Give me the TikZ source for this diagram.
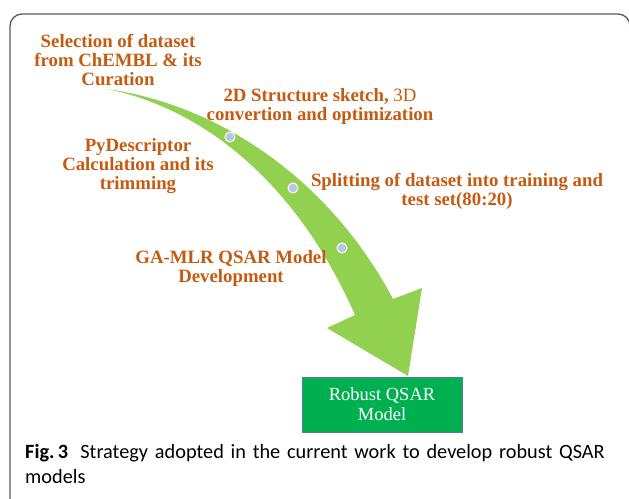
\documentclass[tikz,border=0pt]{standalone}
\usepackage{fontspec}
\setmainfont{Liberation Serif}
\newfontfamily\capfont{Carlito}
\usetikzlibrary{positioning}
\definecolor{stepbrown}{RGB}{197,90,17}
\definecolor{arrowgreen}{RGB}{146,208,80}
\definecolor{boxgreen}{RGB}{0,176,80}
\definecolor{boxedge}{RGB}{91,121,176}
\definecolor{dotblue}{RGB}{180,199,231}
\definecolor{framegray}{RGB}{90,90,90}

\begin{document}
\begin{tikzpicture}[
    x=1pt, y=-1pt,
    steplabel/.style={text=stepbrown, font=\fontsize{18.8}{19}\selectfont\bfseries, align=center, inner sep=0pt},
    stagedot/.style={circle, fill=dotblue, draw=white, line width=1pt, minimum size=10pt, inner sep=0pt},
    resultbox/.style={rectangle, fill=boxgreen, draw=boxedge, line width=0.8pt, minimum width=160pt, minimum height=55pt, text=white, align=center, font=\fontsize{18.5}{20}\selectfont},
    figcaption/.style={anchor=north west, inner sep=0pt, text width=600pt, align=left, font=\capfont\fontsize{20.3}{25}\selectfont}
]
\useasboundingbox (0,0) rectangle (629,498);
\clip (0,0) rectangle (629,498);
\draw[framegray, line width=1.3pt, rounded corners=12pt] (10,520) -- (10,14) -- (630,14) -- (630,520);

\node[resultbox] (result) at (382,404.5) {Robust QSAR\\Model};

\coordinate (tail) at (107,89);
\coordinate (tip) at (408,376);
\fill[arrowgreen] (tail) .. controls (220,105) and (330,180) .. (393,299)
    -- (422,288) -- (tip) -- (327,328) -- (355,315)
    .. controls (300,190) and (210,110) .. (tail) -- cycle;

\node[stagedot] (dot1) at (230,137) {};
\node[stagedot] (dot2) at (293,188) {};
\node[stagedot] (dot3) at (342,248) {};

\node[steplabel] (select) at (118,60) {Selection of dataset\\from ChEMBL \& its\\Curation};
\node[steplabel] (sketch) at (320,106) {2D Structure sketch, {\mdseries 3D}\\convertion and optimization};
\node[steplabel] (descr) at (138,166) {PyDescriptor\\Calculation and its\\trimming};
\node[steplabel] (split) at (457,191) {Splitting of dataset into training and\\test set(80:20)};
\node[steplabel] (gamlr) at (231,268) {GA-MLR QSAR Model\\Development};

\node[figcaption] (caption) at (25,444) {{\bfseries Fig.\,3}\hspace{0.6em}Strategy adopted in the current work to develop robust QSAR models};
\end{tikzpicture}
\end{document}
